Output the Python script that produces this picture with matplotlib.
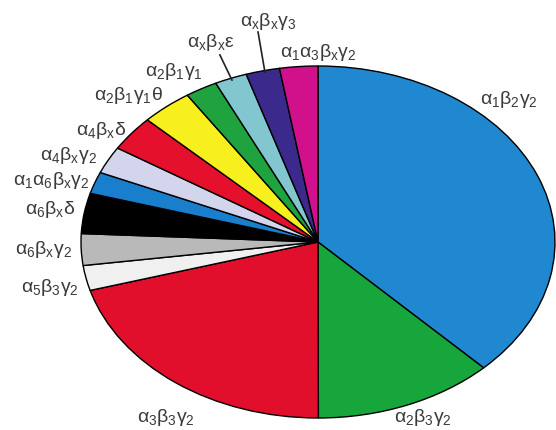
import matplotlib
matplotlib.use("Agg")
import matplotlib.pyplot as plt

plt.rcParams['font.family'] = ['Liberation Sans', 'DejaVu Sans']

# subunit combinations, clockwise from 12 o'clock
labels = ['α_1β_2γ_2', 'α_2β_3γ_2', 'α_3β_3γ_2', 'α_5β_3γ_2', 'α_6β_xγ_2',
          'α_6β_xδ', 'α_1α_6β_xγ_2', 'α_4β_xγ_2', 'α_4β_xδ', 'α_2β_1γ_1θ',
          'α_2β_1γ_1', 'α_xβ_xε', 'α_xβ_xγ_3', 'α_1α_3β_xγ_2']
shares = [37.7, 12.3, 20.6, 2.3, 2.9, 3.7, 2.0, 2.5, 3.25, 3.5, 2.2, 2.2, 2.3, 2.6]
colors = ['#1f88d0', '#17a63c', '#e20f2c', '#f0f0f0', '#b9b9b9', '#000000',
          '#197fcc', '#d2d5ec', '#e5102c', '#f7ef1e', '#1ea33f', '#82c7cf',
          '#3b2a8c', '#d1108b']

# label centres (pie radius = 1 on each axis)
label_pos = [(0.806, 0.807), (0.443, -1.0), (-0.641, -1.0), (-1.131, -0.256),
             (-1.160, -0.045), (-1.131, 0.182), (-1.127, 0.347), (-1.051, 0.489),
             (-0.916, 0.636), (-0.802, 0.830), (-0.608, 0.966), (-0.451, 1.131),
             (-0.211, 1.250), (0.0, 1.074)]
leaders = {11: ((-0.414, 1.063), (-0.363, 0.920)),
           12: ((-0.253, 1.193), (-0.224, 0.966))}

fig = plt.figure(figsize=(5.56, 4.30), dpi=100)
ax = fig.add_axes([0, 0, 1, 1])
ax.pie(shares, colors=colors, startangle=90, counterclock=False,
       wedgeprops=dict(edgecolor='black', linewidth=1.0))
ax.set_aspect('auto')
ax.set_xlim(-318 / 237, 238 / 237)
ax.set_ylim(-188 / 176, 242 / 176)
ax.axis('off')

for i, (lab, (x, y)) in enumerate(zip(labels, label_pos)):
    ax.text(x, y, r'$\mathregular{' + lab + '}$', ha='center', va='center',
            fontsize=14, color='#3a3a3a')

for i, (p0, p1) in leaders.items():
    ax.plot([p0[0], p1[0]], [p0[1], p1[1]], color='#222222', lw=1.2)

fig.savefig('out.png', dpi=100)
